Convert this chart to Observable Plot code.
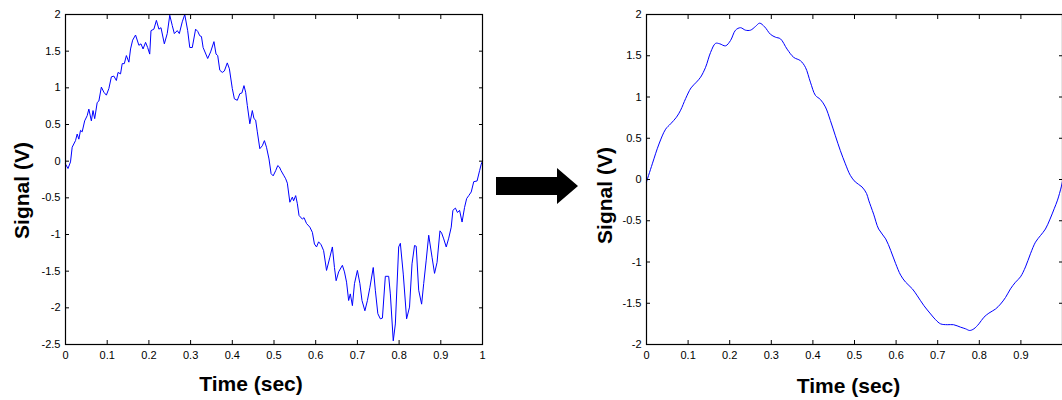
<!DOCTYPE html>
<html>
<head>
<meta charset="utf-8">
<script src="https://cdn.jsdelivr.net/npm/d3@7"></script>
<script src="https://cdn.jsdelivr.net/npm/@observablehq/plot@0.6"></script>
<style>
  html, body { margin: 0; padding: 0; background: #fff; }
  #wrap { position: relative; width: 1062px; height: 400px; overflow: hidden; background: #fff; }
  #left, #right, #arrow { position: absolute; top: 0; }
  #left { left: 0; width: 500px; height: 400px; }
  #right { left: 590px; width: 490px; height: 400px; }
  #left svg, #right svg { max-width: none !important; }
  #arrow { left: 0; pointer-events: none; }
</style>
</head>
<body>
<div id="wrap">
  <div id="left"></div>
  <div id="right"></div>
  <svg id="arrow" width="1062" height="400"><polygon points="496,177 557,177 557,168 578,186 557,204 557,195 496,195" fill="#000"/></svg>
</div>
<script>
// ---- data ----
const tNoisy = [0.000,0.006,0.012,0.016,0.024,0.028,0.032,0.036,0.040,0.046,0.052,0.056,0.062,0.066,0.070,0.076,0.080,0.086,0.092,0.098,
  0.104,0.110,0.116,0.122,0.126,0.132,0.136,0.141,0.146,0.152,0.156,0.161,0.168,0.176,0.181,0.186,0.192,0.197,0.202,0.205,
  0.212,0.218,0.224,0.229,0.237,0.244,0.250,0.256,0.261,0.268,0.273,0.280,0.286,0.293,0.298,0.304,0.312,0.317,0.322,0.326,
  0.330,0.341,0.348,0.356,0.361,0.365,0.370,0.376,0.381,0.388,0.393,0.400,0.405,0.412,0.418,0.423,0.428,0.432,0.436,0.442,
  0.448,0.452,0.456,0.460,0.466,0.472,0.477,0.482,0.488,0.493,0.498,0.504,0.509,0.513,0.517,0.524,0.528,0.532,0.538,0.544,
  0.547,0.552,0.556,0.560,0.568,0.572,0.578,0.586,0.592,0.597,0.602,0.607,0.613,0.619,0.626,0.634,0.640,0.645,0.649,0.655,
  0.664,0.669,0.674,0.679,0.683,0.688,0.693,0.700,0.706,0.711,0.718,0.724,0.730,0.738,0.743,0.749,0.755,0.760,0.767,0.775,
  0.779,0.786,0.791,0.799,0.803,0.810,0.818,0.825,0.831,0.837,0.841,0.847,0.854,0.859,0.865,0.871,0.879,0.885,0.891,0.898,
  0.902,0.907,0.913,0.919,0.925,0.929,0.935,0.940,0.945,0.951,0.957,0.962,0.967,0.973,0.979,0.987,0.993,0.997,1.000];
const vNoisy = [-0.04,-0.10,-0.01,0.19,0.28,0.37,0.30,0.42,0.40,0.55,0.62,0.71,0.55,0.69,0.58,0.80,0.82,1.01,0.94,0.90,
  0.99,1.15,1.16,1.10,1.21,1.19,1.33,1.33,1.44,1.35,1.53,1.65,1.72,1.58,1.60,1.53,1.62,1.55,1.46,1.78,
  1.80,1.92,1.80,1.82,1.60,1.74,1.99,1.85,1.74,1.78,1.74,1.90,2.00,1.78,1.55,1.55,1.80,1.77,1.71,1.70,
  1.55,1.40,1.49,1.63,1.46,1.44,1.24,1.21,1.23,1.34,1.26,0.99,0.85,0.83,0.92,0.93,1.03,0.94,0.76,0.51,
  0.69,0.58,0.56,0.40,0.17,0.21,0.28,0.19,0.03,-0.17,-0.20,-0.13,-0.06,-0.08,-0.13,-0.20,-0.24,-0.30,-0.56,-0.49,
  -0.54,-0.47,-0.58,-0.74,-0.79,-0.77,-0.85,-0.90,-0.97,-1.13,-1.17,-1.10,-1.14,-1.22,-1.49,-1.31,-1.17,-1.45,-1.63,-1.51,
  -1.42,-1.51,-1.65,-1.90,-1.81,-1.97,-1.67,-1.49,-1.67,-1.90,-2.04,-1.90,-1.72,-1.45,-1.76,-2.08,-2.15,-2.14,-1.57,-1.57,
  -1.81,-2.45,-2.22,-1.17,-1.12,-1.54,-2.15,-1.99,-1.40,-1.15,-1.16,-1.76,-1.95,-1.67,-1.35,-1.01,-1.31,-1.53,-1.38,-0.95,
  -0.98,-1.06,-1.17,-1.05,-0.90,-0.67,-0.64,-0.70,-0.67,-0.83,-0.63,-0.51,-0.47,-0.42,-0.28,-0.27,-0.13,-0.04,0.00];

const tSmooth = [0,0.014,0.030,0.046,0.058,0.072,0.082,0.094,0.107,0.120,0.130,0.142,0.154,0.166,0.176,0.190,0.202,0.214,0.226,0.238,
  0.250,0.262,0.272,0.284,0.298,0.310,0.322,0.338,0.354,0.370,0.382,0.394,0.406,0.418,0.430,0.442,0.454,0.466,0.478,0.490,
  0.502,0.518,0.529,0.534,0.546,0.558,0.575,0.587,0.599,0.611,0.623,0.639,0.651,0.667,0.683,0.695,0.707,0.723,0.738,0.755,
  0.767,0.777,0.787,0.799,0.811,0.823,0.839,0.851,0.863,0.875,0.887,0.899,0.911,0.923,0.935,0.947,0.959,0.970,0.980,0.988,
  0.997,1.0];
const vSmooth = [-0.03,0.19,0.43,0.61,0.675,0.755,0.84,0.98,1.11,1.18,1.24,1.36,1.54,1.65,1.645,1.62,1.685,1.81,1.84,1.81,
  1.81,1.855,1.895,1.85,1.76,1.725,1.705,1.58,1.48,1.44,1.36,1.18,1.02,0.97,0.88,0.715,0.53,0.35,0.19,0.05,
  -0.03,-0.09,-0.17,-0.25,-0.42,-0.60,-0.72,-0.86,-1.02,-1.16,-1.245,-1.325,-1.41,-1.53,-1.63,-1.70,-1.75,-1.76,-1.76,-1.79,
  -1.81,-1.83,-1.81,-1.75,-1.67,-1.62,-1.57,-1.51,-1.43,-1.325,-1.245,-1.18,-1.06,-0.90,-0.76,-0.68,-0.60,-0.48,-0.355,-0.25,
  -0.09,-0.02];

const xTicks = [0,0.1,0.2,0.3,0.4,0.5,0.6,0.7,0.8,0.9,1];
const xTickLabelsRight = [0,0.1,0.2,0.3,0.4,0.5,0.6,0.7,0.8,0.9]; // the "1" lies beyond the cropped edge
const yTicksLeft = [-2.5,-2,-1.5,-1,-0.5,0,0.5,1,1.5,2];
const yTicksRight = [-2,-1.5,-1,-0.5,0,0.5,1,1.5,2];
const xLabel = "Time (sec)";
const yLabel = "Signal (V)";

// ---- build ----
const noisy = tNoisy.map((t, i) => ({t, v: vNoisy[i]}));
const smooth = tSmooth.map((t, i) => ({t, v: vSmooth[i]}));
const blank = () => "";
const FONT = "'Liberation Sans', Arial, Helvetica, sans-serif";

function panel({data, width, marginLeft, yDomain, yTicks, xLabels, curve, xLabDx, xLabDy, yLabDx, yLabDy}) {
  const fmtX = d => xLabels.includes(d) ? String(d) : "";
  return Plot.plot({
    width, height: 400,
    marginLeft, marginRight: 18, marginTop: 14, marginBottom: 56,
    style: {fontFamily: FONT, fontSize: "11px", background: "transparent", color: "#000"},
    x: {domain: [0, 1], label: null},
    y: {domain: yDomain, label: null},
    marks: [
      Plot.line(data, {x: "t", y: "v", stroke: "#0000ff", strokeWidth: 1, curve}),
      Plot.frame({stroke: "#000", strokeWidth: 1.2}),
      Plot.axisX(xTicks, {anchor: "bottom", tickSize: -4, tickPadding: 11, tickFormat: fmtX, fontSize: 11, label: null}),
      Plot.axisX(xTicks, {anchor: "top", tickSize: -4, tickPadding: 0, tickFormat: blank, label: null}),
      Plot.axisY(yTicks, {anchor: "left", tickSize: -4, tickPadding: 9, tickFormat: d => String(d), fontSize: 11, label: null}),
      Plot.axisY(yTicks, {anchor: "right", tickSize: -4, tickPadding: 0, tickFormat: blank, label: null}),
      Plot.text([xLabel], {frameAnchor: "bottom", dx: xLabDx, dy: xLabDy, lineAnchor: "middle", textAnchor: "middle",
        fontSize: 21, fontWeight: "bold", fill: "#000"}),
      Plot.text([yLabel], {frameAnchor: "left", rotate: -90, dx: yLabDx, dy: yLabDy, lineAnchor: "middle", textAnchor: "middle",
        fontSize: 21, fontWeight: "bold", fill: "#000"})
    ]
  });
}

document.getElementById("left").append(panel({
  data: noisy, width: 500, marginLeft: 65, yDomain: [-2.5, 2], yTicks: yTicksLeft, xLabels: xTicks, curve: "linear",
  xLabDx: -23, xLabDy: 40, yLabDx: -43, yLabDy: 11
}));
document.getElementById("right").append(panel({
  data: smooth, width: 490, marginLeft: 56, yDomain: [-2, 2], yTicks: yTicksRight, xLabels: xTickLabelsRight, curve: "catmull-rom",
  xLabDx: -6, xLabDy: 42, yLabDx: -41, yLabDy: 16
}));
</script>
</body>
</html>
